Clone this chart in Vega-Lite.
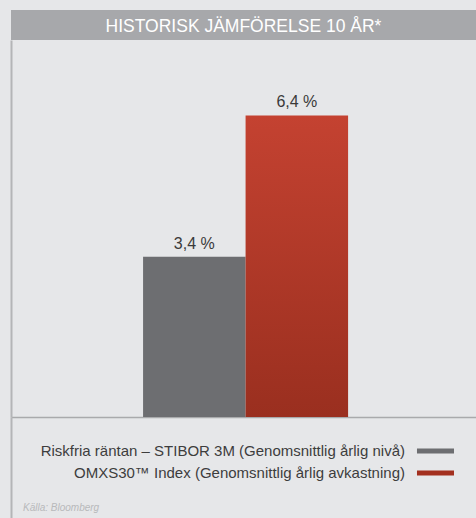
{
  "$schema": "https://vega.github.io/schema/vega-lite/v6.json",
  "background": "#e6e7e9",
  "padding": {"left": 11, "top": 10, "right": 0, "bottom": 0},
  "spacing": 0,
  "bounds": "flush",
  "config": {
    "font": "Liberation Sans",
    "view": {"stroke": null},
    "concat": {"spacing": 0}
  },
  "vconcat": [
    {
      "width": 465,
      "height": 30,
      "view": {"fill": "#a7a8ab", "stroke": null},
      "data": {"values": [{"t": "HISTORISK JÄMFÖRELSE 10 ÅR*"}]},
      "mark": {"type": "text", "color": "#ffffff", "fontSize": 17.5, "baseline": "middle", "dy": 2},
      "encoding": {"text": {"field": "t"}}
    },
    {
      "width": 465,
      "height": 377,
      "data": {"values": [
        {"group": "10 år", "key": "STIBOR", "value": 3.4, "label": "3,4 %"},
        {"group": "10 år", "key": "OMXS", "value": 6.4, "label": "6,4 %"}
      ]},
      "encoding": {
        "x": {
          "field": "group", "type": "nominal",
          "scale": {"paddingInner": 0, "paddingOuter": 0.634, "align": 0.508},
          "axis": {"labels": false, "ticks": false, "title": null, "domain": true, "domainColor": "#a9aaac", "domainWidth": 1.5, "grid": false}
        },
        "xOffset": {
          "field": "key", "type": "nominal", "sort": null,
          "scale": {"paddingInner": 0, "paddingOuter": 0}
        },
        "y": {
          "field": "value", "type": "quantitative",
          "scale": {"domain": [0, 8], "nice": false},
          "axis": {"labels": false, "ticks": false, "title": null, "domain": true, "domainColor": "#b4b5b7", "domainWidth": 2, "grid": false}
        }
      },
      "layer": [
        {
          "mark": {"type": "bar"},
          "encoding": {
            "color": {
              "condition": {
                "test": "datum.key === 'OMXS'",
                "value": {
                  "gradient": "linear", "x1": 0, "y1": 0, "x2": 0, "y2": 1,
                  "stops": [
                    {"offset": 0, "color": "#c44231"},
                    {"offset": 1, "color": "#9a2f1f"}
                  ]
                }
              },
              "value": "#6d6e71"
            }
          }
        },
        {
          "mark": {"type": "text", "fontSize": 16, "color": "#3a3a3a", "baseline": "alphabetic", "dy": -8},
          "encoding": {"text": {"field": "label"}}
        }
      ]
    },
    {
      "width": 465,
      "height": 101,
      "title": {
        "text": "Källa: Bloomberg",
        "orient": "bottom",
        "anchor": "start",
        "offset": -15,
        "dx": 12,
        "fontSize": 10,
        "fontStyle": "italic",
        "fontWeight": "normal",
        "color": "#b8b9bb",
        "font": "Liberation Sans"
      },
      "data": {"values": [
        {"key": "STIBOR", "label": "Riskfria räntan – STIBOR 3M (Genomsnittlig årlig nivå)"},
        {"key": "OMXS", "label": "OMXS30™ Index (Genomsnittlig årlig avkastning)"}
      ]},
      "encoding": {
        "y": {
          "field": "key", "type": "nominal", "sort": null,
          "scale": {"domain": ["STIBOR", "OMXS", "src"], "paddingInner": 0, "paddingOuter": 0.795, "align": 0.657},
          "axis": {"labels": false, "ticks": false, "title": null, "domain": true, "domainColor": "#b4b5b7", "domainWidth": 2, "grid": false}
        }
      },
      "layer": [
        {
          "mark": {"type": "text", "fontSize": 15, "color": "#3d3d3d", "align": "right", "baseline": "middle", "dx": -12},
          "encoding": {
            "x": {
              "datum": "swatch", "type": "nominal", "bandPosition": 0,
              "scale": {"paddingInner": 0.827, "paddingOuter": 1, "align": 0.9486},
              "axis": null
            },
            "text": {"field": "label"}
          }
        },
        {
          "mark": {"type": "bar", "height": 5},
          "encoding": {
            "x": {"datum": "swatch", "type": "nominal"},
            "color": {
              "field": "key", "type": "nominal",
              "scale": {"domain": ["STIBOR", "OMXS"], "range": ["#6d6e71", "#a3301f"]},
              "legend": null
            }
          }
        }
      ]
    }
  ]
}
